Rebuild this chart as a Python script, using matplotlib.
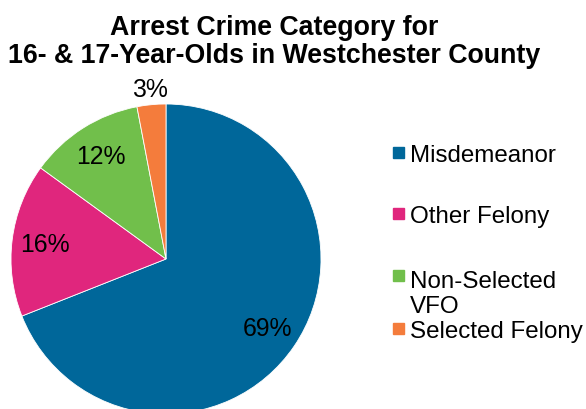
import numpy as np
import matplotlib.pyplot as plt
from matplotlib.patches import Rectangle

categories = ["Misdemeanor", "Other Felony", "Non-Selected\nVFO", "Selected Felony"]
shares = [69, 16, 12, 3]
colors = ["#00679a", "#e0267d", "#71bf4b", "#f47c3c"]
title = "Arrest Crime Category for\n16- & 17-Year-Olds in Westchester County"

plt.rcParams['font.family'] = ['Liberation Sans', 'DejaVu Sans']

W, H = 586, 410
fig = plt.figure(figsize=(W / 100, H / 100), dpi=100)

# pie placement in pixels (centre and radius)
cx, cy, r = 166, 260, 155
ax = fig.add_axes([(cx - r) / W, (H - cy - r) / H, 2 * r / W, 2 * r / H])
wedges, texts, autotexts = ax.pie(
    shares, colors=colors, startangle=90, counterclock=False,
    autopct='%1.0f%%', pctdistance=0.79,
    textprops=dict(fontsize=17.8, color='black'),
    wedgeprops=dict(linewidth=0.6, edgecolor='white'))
ax.set_xlim(-1, 1)
ax.set_ylim(-1, 1)

# the small slice gets its label outside the pie
w = wedges[-1]
mid = np.deg2rad((w.theta1 + w.theta2) / 2)
autotexts[-1].set_position((1.1 * np.cos(mid), 1.1 * np.sin(mid)))

# baseline of the last line
fig.text(274 / W, 1 - 63 / H, title, ha='center', va='baseline',
         fontsize=19.3, fontweight='bold', linespacing=1.1)

# legend laid out by hand to follow the original spacing
legend_baselines = [162, 223, 313, 338]
for lab, col, yb in zip(categories, colors, legend_baselines):
    yb_first = yb - 28 * lab.count("\n")
    fig.add_artist(Rectangle((393 / W, 1 - (yb_first - 3) / H), 11 / W, 11 / H,
                             transform=fig.transFigure, color=col))
    fig.text(410 / W, 1 - yb / H, lab, fontsize=17.4, va='baseline',
             linespacing=1.2)

fig.savefig("out.png", dpi=100)
